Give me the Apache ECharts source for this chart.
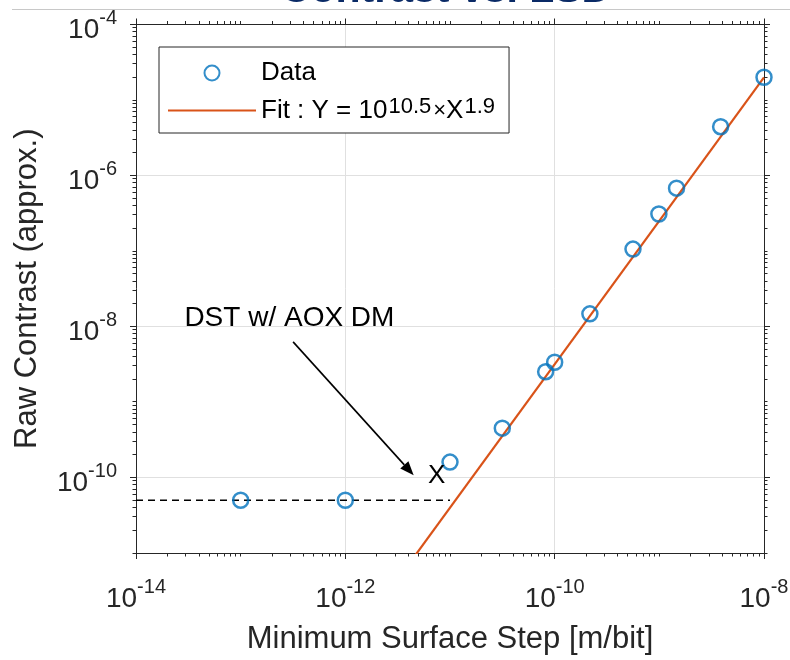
<!DOCTYPE html>
<html>
<head>
<meta charset="utf-8">
<script src="https://cdn.jsdelivr.net/npm/echarts@6/dist/echarts.min.js"></script>
<style>
  html, body { margin: 0; padding: 0; background: #ffffff; }
  #chart { width: 790px; height: 660px; }
</style>
</head>
<body>
<div id="chart"></div>
<script>
// Minimum surface step [m/bit] and measured raw contrast for each run
const stepValues = [1e-13, 1e-12, 1e-11, 3.16e-11, 8.2e-11, 1e-10, 2.17e-10, 5.6e-10, 9.9e-10, 1.46e-9, 3.85e-9, 1e-8];
const contrastValues = [5e-11, 5e-11, 1.6e-10, 4.5e-10, 2.52e-9, 3.36e-9, 1.47e-8, 1.06e-7, 3.09e-7, 6.8e-7, 4.43e-6, 2.0e-5];

// Power-law fit  Y = 10^fitLogA * X^fitExponent, drawn over this step span
const fitLogA = 10.5;
const fitExponent = 1.9;
const fitStepRange = [1e-12, 1e-8];

// Contrast floor (dashed) and the step span it covers
const floorLevel = 5e-11;
const floorStepRange = [1e-14, 1e-11];

// "DST w/ AOX DM" call-out, in data coordinates
const dstNoteText = 'DST w/ AOX DM';
const dstNoteAt = [2.9e-14, 1.29e-8];
const dstArrowFrom = [3.17e-13, 6.26e-9];
const dstArrowTo = [4.5e-12, 1.07e-10];
const dstMarkText = 'X';
const dstMarkAt = [7.45e-12, 1.04e-10];

// Axis ranges and the decades that carry a label
const xRange = [1e-14, 1e-8];
const yRange = [1e-11, 1e-4];
const xLabelExponents = [-14, -12, -10, -8];
const yLabelExponents = [-10, -8, -6, -4];

(function () {
  const FONT = 'Arial, "Liberation Sans", Helvetica, sans-serif';
  const AXIS_COLOR = '#262626';
  const GRID_COLOR = '#e0e0e0';

  // "10" with a raised exponent
  const tickRich = {
    b: { fontSize: 28, lineHeight: 44, verticalAlign: 'middle', color: AXIS_COLOR, fontFamily: FONT },
    e: { fontSize: 20, lineHeight: 20, verticalAlign: 'top', color: AXIS_COLOR, fontFamily: FONT }
  };

  function powerLabel(exponents) {
    return function (value) {
      const k = Math.round(Math.log10(value));
      return exponents.indexOf(k) >= 0 ? '{b|10}{e|' + k + '}' : '';
    };
  }

  function baseAxis(range, extra) {
    return Object.assign({
      type: 'log',
      logBase: 10,
      min: range[0],
      max: range[1],
      interval: 1,
      axisLine: { show: true, onZero: false, lineStyle: { color: AXIS_COLOR, width: 1 } },
      axisTick: { show: false },
      minorTick: { show: false },
      splitLine: { show: false },
      axisLabel: { show: false }
    }, extra);
  }

  const option = {
    animation: false,
    backgroundColor: '#ffffff',
    textStyle: { fontFamily: FONT },
    grid: { left: 136, right: 26, top: 24.5, bottom: 107, containLabel: false, outerBoundsMode: 'none' },
    legend: {
      data: [
        { name: 'Data' },
        { name: 'Fit', icon: 'path://M0,0L88,0L88,2.2L0,2.2Z' }
      ],
      orient: 'vertical',
      left: 159,
      top: 47,
      padding: [13, 12, 9.5, 9],
      itemGap: 9.5,
      itemWidth: 88,
      itemHeight: 15,
      backgroundColor: '#ffffff',
      borderColor: AXIS_COLOR,
      borderWidth: 1,
      borderRadius: 0,
      selectedMode: false,
      formatter: function (name) {
        if (name === 'Data') return '{t|Data}';
        return '{t|Fit : Y = 10}{s|' + fitLogA + '}{m|\u00d7}{t|X}{s|' + fitExponent + '}';
      },
      textStyle: {
        color: '#000000',
        fontFamily: FONT,
        rich: {
          t: { fontSize: 26, lineHeight: 30, color: '#000000', fontFamily: FONT },
          s: { fontSize: 22, lineHeight: 15, verticalAlign: 'top', padding: [0, 2, 0, 1], color: '#000000', fontFamily: FONT },
          m: { fontSize: 22, lineHeight: 30, color: '#000000', fontFamily: FONT }
        }
      }
    },
    xAxis: [
      baseAxis(xRange, {
        position: 'bottom',
        name: 'Minimum Surface Step [m/bit]',
        nameLocation: 'middle',
        nameGap: 71,
        nameMoveOverlap: false,
        nameTextStyle: { fontSize: 31, color: AXIS_COLOR, fontFamily: FONT },
        axisLabel: { show: true, margin: 24, formatter: powerLabel(xLabelExponents), rich: tickRich, color: AXIS_COLOR }
      }),
      baseAxis(xRange, { position: 'top' })
    ],
    yAxis: [
      baseAxis(yRange, {
        position: 'left',
        name: 'Raw Contrast (approx.)',
        nameLocation: 'middle',
        nameGap: 93,
        nameMoveOverlap: false,
        nameTextStyle: { fontSize: 31, color: AXIS_COLOR, fontFamily: FONT },
        axisLabel: { show: true, margin: 19, padding: [12, 0, 0, 0], formatter: powerLabel(yLabelExponents), rich: tickRich, color: AXIS_COLOR }
      }),
      baseAxis(yRange, { position: 'right' })
    ],
    series: [
      {
        name: 'Floor',
        type: 'line',
        xAxisIndex: 0,
        yAxisIndex: 0,
        data: floorStepRange.map(function (x) { return [x, floorLevel]; }),
        symbol: 'none',
        silent: true,
        lineStyle: { color: '#000000', width: 1.3, type: [7, 5] },
        z: 2
      },
      {
        name: 'Fit',
        type: 'line',
        xAxisIndex: 0,
        yAxisIndex: 0,
        data: fitStepRange.map(function (x) { return [x, Math.pow(10, fitLogA) * Math.pow(x, fitExponent)]; }),
        symbol: 'none',
        clip: true,
        silent: true,
        lineStyle: { color: '#D95319', width: 2.2 },
        itemStyle: { color: '#D95319' },
        z: 3
      },
      {
        name: 'Data',
        type: 'scatter',
        xAxisIndex: 0,
        yAxisIndex: 0,
        data: stepValues.map(function (x, i) { return [x, contrastValues[i]]; }),
        symbol: 'circle',
        symbolSize: 15,
        itemStyle: { color: 'rgba(255,255,255,0)', borderColor: '#0072BD', borderWidth: 2.5 },
        z: 4
      }
    ]
  };

  const chart = echarts.init(document.getElementById('chart'), null, { renderer: 'canvas' });
  chart.setOption(option);

  // ---- ticks, grid lines and call-outs placed through the axes' own scales ----
  const xPx = function (v) { return chart.convertToPixel({ xAxisIndex: 0 }, v); };
  const yPx = function (v) { return chart.convertToPixel({ yAxisIndex: 0 }, v); };
  const crisp = function (v) { return Math.round(v - 0.5) + 0.5; };

  // every 1..9 x 10^k inside the range; returns {value, major}
  function tickValues(range, labelled) {
    const lo = Math.round(Math.log10(range[0]));
    const hi = Math.round(Math.log10(range[1]));
    const out = [];
    for (let k = lo; k <= hi; k++) {
      for (let m = 1; m <= 9; m++) {
        if (k === hi && m > 1) break;
        out.push({ value: m * Math.pow(10, k), major: m === 1 && labelled.indexOf(k) >= 0 });
      }
    }
    return out;
  }

  const plotLeft = xPx(xRange[0]), plotRight = xPx(xRange[1]);
  const plotBottom = yPx(yRange[0]), plotTop = yPx(yRange[1]);
  const MAJOR = 6, MINOR = 3.5;
  const graphics = [];

  function segment(x1, y1, x2, y2, color, z) {
    graphics.push({
      type: 'line', silent: true, z: z,
      shape: { x1: x1, y1: y1, x2: x2, y2: y2 },
      style: { stroke: color, lineWidth: 1 }
    });
  }

  tickValues(xRange, xLabelExponents).forEach(function (t) {
    const x = crisp(xPx(t.value));
    const len = t.major ? MAJOR : MINOR;
    segment(x, plotBottom, x, plotBottom + len, AXIS_COLOR, 50);
    segment(x, plotTop, x, plotTop - len, AXIS_COLOR, 50);
    if (t.major && t.value > xRange[0] && t.value < xRange[1]) {
      segment(x, plotTop, x, plotBottom, GRID_COLOR, 0);
    }
  });
  tickValues(yRange, yLabelExponents).forEach(function (t) {
    const y = crisp(yPx(t.value));
    const len = t.major ? MAJOR : MINOR;
    segment(plotLeft, y, plotLeft - len, y, AXIS_COLOR, 50);
    segment(plotRight, y, plotRight + len, y, AXIS_COLOR, 50);
    if (t.major && t.value > yRange[0] && t.value < yRange[1]) {
      segment(plotLeft, y, plotRight, y, GRID_COLOR, 0);
    }
  });

  // call-out text, arrow and marker
  const notePx = chart.convertToPixel({ seriesIndex: 2 }, dstNoteAt);
  graphics.push({
    type: 'text', silent: true, z: 60, x: notePx[0], y: notePx[1],
    style: { text: dstNoteText, fontSize: 28, fontFamily: FONT, fill: '#000000', align: 'left', verticalAlign: 'middle' }
  });
  const markPx = chart.convertToPixel({ seriesIndex: 2 }, dstMarkAt);
  graphics.push({
    type: 'text', silent: true, z: 60, x: markPx[0], y: markPx[1],
    style: { text: dstMarkText, fontSize: 26, fontFamily: FONT, fill: '#000000', align: 'center', verticalAlign: 'middle' }
  });
  const a0 = chart.convertToPixel({ seriesIndex: 2 }, dstArrowFrom);
  const a1 = chart.convertToPixel({ seriesIndex: 2 }, dstArrowTo);
  const ang = Math.atan2(a1[1] - a0[1], a1[0] - a0[0]);
  const headLen = 14, headHalf = 5.5;
  const headBase = [a1[0] - headLen * Math.cos(ang), a1[1] - headLen * Math.sin(ang)];
  graphics.push({
    type: 'line', silent: true, z: 60,
    shape: { x1: a0[0], y1: a0[1], x2: headBase[0], y2: headBase[1] },
    style: { stroke: '#000000', lineWidth: 1.6 }
  });
  graphics.push({
    type: 'polygon', silent: true, z: 60,
    shape: { points: [
      [a1[0], a1[1]],
      [headBase[0] + headHalf * Math.sin(ang), headBase[1] - headHalf * Math.cos(ang)],
      [headBase[0] - headHalf * Math.sin(ang), headBase[1] + headHalf * Math.cos(ang)]
    ] },
    style: { fill: '#000000' }
  });

  // slide header rule and heading
  graphics.push({
    type: 'line', silent: true, z: 70,
    shape: { x1: 12, y1: 9.5, x2: 790, y2: 9.5 },
    style: { stroke: '#c8c8c8', lineWidth: 1.2 }
  });
  graphics.push({
    type: 'text', silent: true, z: 70, x: 446, y: -9,
    style: { text: 'Contrast vs. LSD', fontSize: 41, fontWeight: 'bold', fontFamily: FONT, fill: '#0a2a66', align: 'center', verticalAlign: 'middle' }
  });

  chart.setOption({ graphic: graphics });
})();
</script>
</body>
</html>
